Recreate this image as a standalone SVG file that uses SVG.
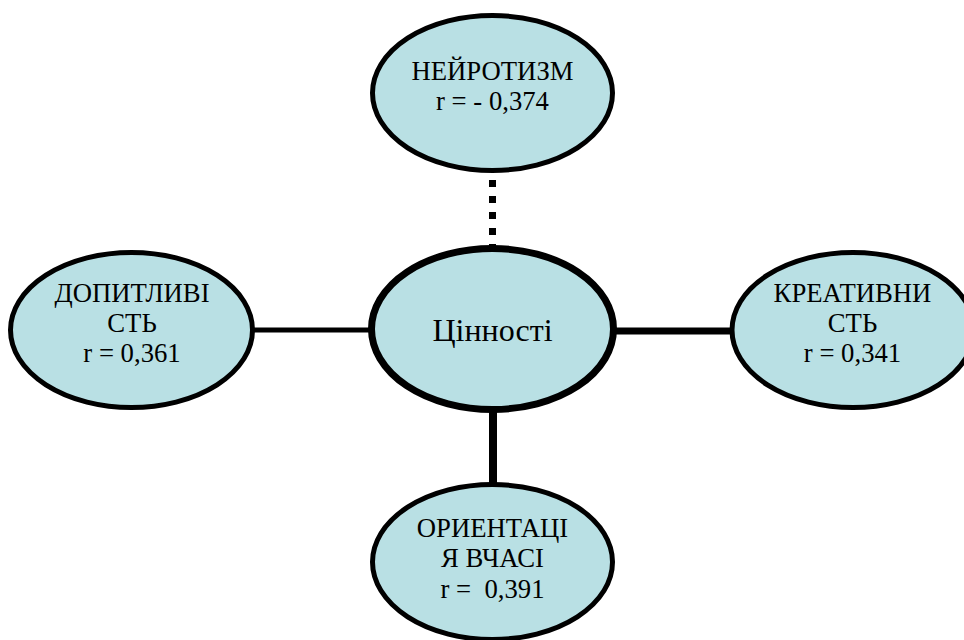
<svg xmlns="http://www.w3.org/2000/svg" width="964" height="640" viewBox="0 0 964 640">
<style>
.n{fill:#b9e0e4;stroke:#000;stroke-width:5}
.c{fill:#b9e0e4;stroke:#000;stroke-width:7}
text{font-family:'Liberation Serif','Times New Roman',serif;font-size:26.7px;fill:#000;text-anchor:middle}
.big{font-size:32px}
.e{stroke:#000;fill:none}
</style>
<rect width="964" height="640" fill="#fff"/>
<g id="connectors">
<line class="e" x1="492.5" y1="180" x2="492.5" y2="248" stroke-width="7" stroke-dasharray="7 9"/>
<line class="e" x1="254" y1="330" x2="372" y2="330" stroke-width="5"/>
<line class="e" x1="614" y1="331" x2="732" y2="331" stroke-width="7"/>
<line class="e" x1="493" y1="410" x2="493" y2="487" stroke-width="8"/>
</g>
<g id="top">
<ellipse class="n" cx="492.5" cy="93" rx="120" ry="77.5"/>
<text x="492.5" y="80">НЕЙРОТИЗМ</text>
<text x="492.5" y="110">r = - 0,374</text>
</g>
<g id="left">
<ellipse class="n" cx="131.5" cy="330" rx="121" ry="77.5"/>
<text x="132" y="302">ДОПИТЛИВІ</text>
<text x="132" y="332">СТЬ</text>
<text x="132" y="362">r = 0,361</text>
</g>
<g id="right">
<ellipse class="n" cx="853" cy="330" rx="121" ry="77.5"/>
<text x="852.5" y="302">КРЕАТИВНИ</text>
<text x="852.5" y="332">СТЬ</text>
<text x="852.5" y="362">r = 0,341</text>
</g>
<g id="bottom">
<ellipse class="n" cx="492.5" cy="562" rx="120" ry="77.5"/>
<text x="492.5" y="537">ОРИЕНТАЦІ</text>
<text x="492.5" y="567">Я ВЧАСІ</text>
<text x="492.5" y="598" xml:space="preserve">r =  0,391</text>
</g>
<g id="center">
<ellipse class="c" cx="492.5" cy="329" rx="121" ry="80.5"/>
<text class="big" x="492.5" y="341">Цінності</text>
</g>
</svg>
